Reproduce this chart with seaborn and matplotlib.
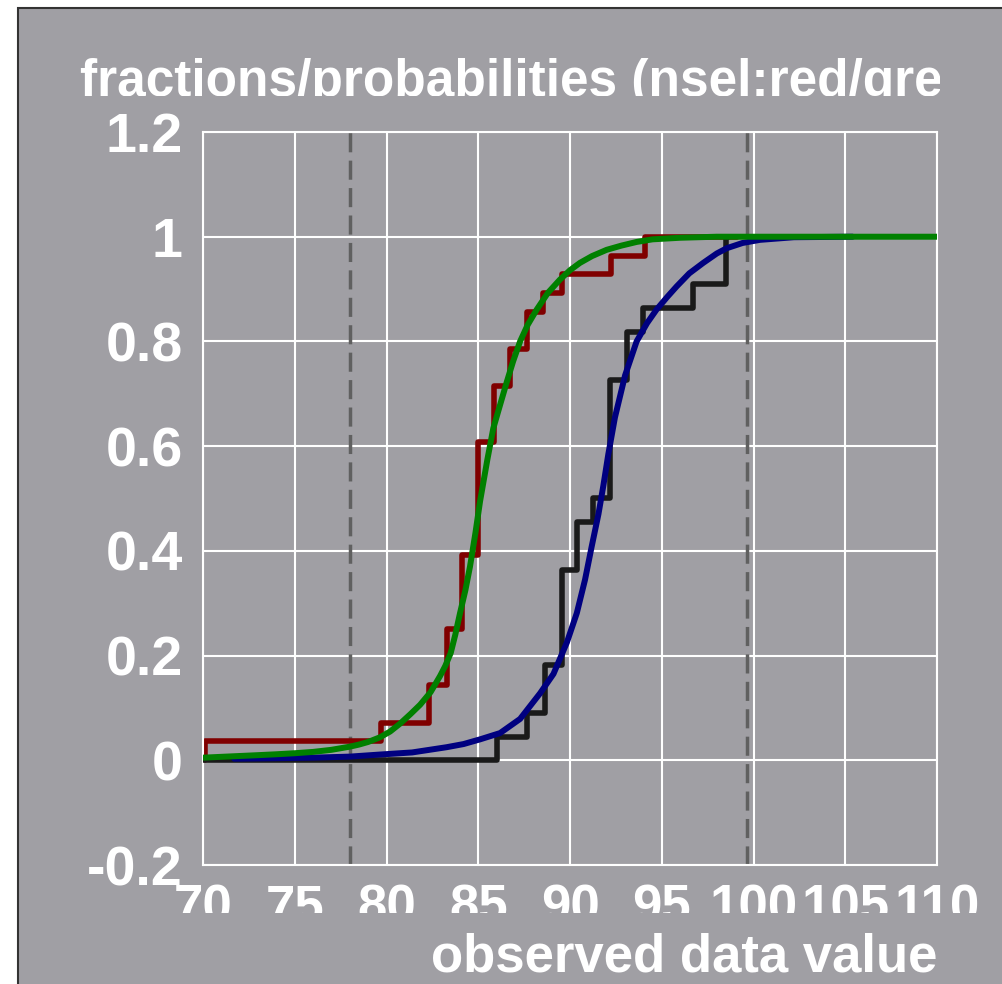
import matplotlib
matplotlib.use("Agg")
import matplotlib.pyplot as plt
from matplotlib.patches import Rectangle
from matplotlib.transforms import Bbox
import seaborn as sns
import pandas as pd

# ---------------- data ----------------
red_x = [70.1, 70.1, 79.7, 82.3, 83.3, 84.1, 85.0, 85.85, 86.73, 87.64, 88.55, 89.55, 92.22, 94.09, 99.1]
red_y = [0.0, 0.036, 0.071, 0.143, 0.250, 0.393, 0.607, 0.714, 0.786, 0.857, 0.893, 0.929, 0.964, 1.0, 1.0]

black_x = [70.0, 86.0, 87.64, 88.62, 89.55, 90.37, 91.27, 92.18, 93.09, 93.96, 96.72, 98.48, 98.6]
black_y = [0.0, 0.045, 0.091, 0.182, 0.364, 0.455, 0.500, 0.727, 0.818, 0.864, 0.909, 1.0, 1.0]

green_x = [70.0, 71.0, 72.0, 73.0, 74.0, 75.0, 76.0, 77.0, 78.0, 78.5, 79.0, 79.65, 80.2, 80.74,
           81.3, 81.83, 82.4, 82.92, 83.2, 83.5, 83.75, 84.0, 84.3, 84.55, 84.85, 85.1, 85.5,
           85.82, 86.2, 86.55, 86.9, 87.28, 87.7, 88.19, 88.8, 89.45, 90.0, 90.54, 91.2, 92.0,
           92.8, 93.63, 94.5, 96.0, 98.0, 110.0]
green_y = [0.005, 0.0066, 0.0082, 0.0098, 0.0115, 0.0135, 0.016, 0.020, 0.026, 0.030, 0.035, 0.044,
           0.055, 0.070, 0.088, 0.106, 0.130, 0.161, 0.180, 0.205, 0.240, 0.280, 0.325, 0.370,
           0.435, 0.495, 0.575, 0.634, 0.680, 0.722, 0.762, 0.800, 0.832, 0.861, 0.893, 0.918,
           0.936, 0.950, 0.963, 0.975, 0.983, 0.990, 0.995, 0.998, 1.0, 1.0]

blue_x = [71.7, 74.0, 76.0, 78.0, 79.65, 81.4, 83.28, 84.2, 85.1, 86.19, 87.28, 88.37, 89.1,
          89.83, 90.37, 90.82, 91.18, 91.55, 91.82, 92.09, 92.45, 93.0, 93.63, 94.2, 94.72,
          95.3, 95.81, 96.5, 97.26, 98.0, 98.54, 99.4, 100.35, 102.2, 105.4]
blue_y = [0.003, 0.004, 0.005, 0.007, 0.011, 0.015, 0.025, 0.031, 0.040, 0.052, 0.079, 0.128, 0.165,
          0.225, 0.281, 0.345, 0.408, 0.470, 0.525, 0.585, 0.655, 0.735, 0.800, 0.835, 0.861,
          0.885, 0.905, 0.930, 0.950, 0.968, 0.978, 0.988, 0.994, 0.999, 1.0]

vlines_x = [78.0, 99.65]

x_ticks = [70, 75, 80, 85, 90, 95, 100, 105, 110]
x_tick_labels = ["70", "75", "80", "85", "90", "95", "100", "105", "110"]
y_ticks = [1.2, 1.0, 0.8, 0.6, 0.4, 0.2, 0.0, -0.2]
y_tick_labels = ["1.2", "1", "0.8", "0.6", "0.4", "0.2", "0", "-0.2"]

title_text = "fractions/probabilities (nsel:red/green)"
x_label = "observed data value"

# ---------------- styling ----------------
BG = "#a09fa4"
W, H, DPI = 1002, 984, 100

sns.set_style("white")
plt.rcParams["font.family"] = ["Liberation Sans", "DejaVu Sans"]

fig = plt.figure(figsize=(W / DPI, H / DPI), dpi=DPI)
fig.patch.set_facecolor("white")
fig.add_artist(Rectangle((18 / W, -0.02), 1.05, (H - 8) / H + 0.02, transform=fig.transFigure,
                         facecolor=BG, edgecolor="#333333", linewidth=1.5, zorder=-10))

ax = fig.add_axes([203 / W, (H - 865) / H, (937 - 203) / W, (865 - 132) / H])
ax.set_facecolor(BG)

# grid
ax.grid(True, color="white", linewidth=1.5, zorder=0)
ax.set_axisbelow(True)

# dashed vertical lines
for xv in vlines_x:
    ax.axvline(xv, color="#606060", linewidth=2.5, dashes=(5.5, 2.4), zorder=1)

df_red = pd.DataFrame({"x": red_x, "y": red_y})
df_black = pd.DataFrame({"x": black_x, "y": black_y})
df_green = pd.DataFrame({"x": green_x, "y": green_y})
df_blue = pd.DataFrame({"x": blue_x, "y": blue_y})

sns.lineplot(data=df_red, x="x", y="y", ax=ax, color="#800000", linewidth=4.0,
             drawstyle="steps-post", estimator=None, sort=False, zorder=2)
sns.lineplot(data=df_black, x="x", y="y", ax=ax, color="#1a1a1a", linewidth=4.0,
             drawstyle="steps-post", estimator=None, sort=False, zorder=3)
sns.lineplot(data=df_blue, x="x", y="y", ax=ax, color="#000080", linewidth=4.3,
             estimator=None, sort=False, zorder=4)
sns.lineplot(data=df_green, x="x", y="y", ax=ax, color="#008000", linewidth=4.3,
             estimator=None, sort=False, zorder=5)

ax.set_xlim(70, 110)
ax.set_ylim(-0.2, 1.2)
ax.set_xticks(x_ticks)
ax.set_xticklabels(x_tick_labels)
ax.set_yticks(y_ticks)
ax.set_yticklabels(y_tick_labels)
ax.set_xlabel("")
ax.set_ylabel("")

for s in ax.spines.values():
    s.set_color("white")
    s.set_linewidth(1.5)

ax.tick_params(axis="x", colors="white", length=11, width=1.5, pad=2.5, labelsize=38)
ax.tick_params(axis="y", colors="white", length=11.5, width=1.5, pad=3, labelsize=40)
for lab in ax.get_yticklabels():
    lab.set_fontweight("bold")
for lab in ax.get_xticklabels():
    lab.set_fontweight("bold")

# title and axis label as figure texts
title = fig.text(80 / W, (H - 96) / H, title_text, ha="left", va="baseline",
                 fontsize=37, fontweight="bold", color="white")
fig.text(937 / W, (H - 972) / H, x_label, ha="right", va="baseline",
         fontsize=38, fontweight="bold", color="white")

fig.canvas.draw()
# clip title (bottom and right) and x tick labels (bottom) like the original
title.set_clip_box(Bbox.from_extents(0, H - 96, 940, H))
title.set_clip_on(True)
for t in ax.xaxis.get_major_ticks():
    t.label1.set_clip_box(Bbox.from_extents(0, H - 913, W, H))
    t.label1.set_clip_on(True)
    t.label1.set_fontweight("bold")

fig.savefig("out.png", dpi=DPI, facecolor=fig.get_facecolor())
